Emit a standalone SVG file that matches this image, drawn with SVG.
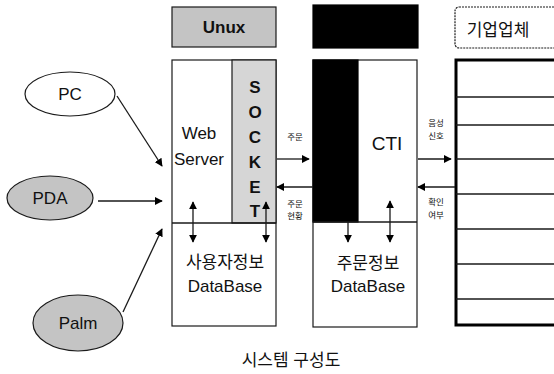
<svg xmlns="http://www.w3.org/2000/svg" width="554" height="374" viewBox="0 0 554 374">
  <style>
    .box { fill: #ffffff; stroke: #1a1a1a; stroke-width: 1.2; }
    .gray { fill: #c4c4c4; stroke: #1a1a1a; stroke-width: 1.2; }
    .lgray { fill: #d6d6d6; stroke: #1a1a1a; stroke-width: 1.2; }
    .blk { fill: #000000; stroke: #000000; stroke-width: 1.2; }
    .ln { stroke: #1a1a1a; stroke-width: 1.3; fill: none; }
    .thick { stroke: #000000; stroke-width: 3; fill: none; }
    .t { font-family: "Liberation Sans", "Noto Sans CJK KR", sans-serif; fill: #111; text-anchor: middle; }
    .big { font-size: 17px; }
    .sm { font-size: 8.5px; }
    .sock { font-size: 17px; font-weight: bold; }
  </style>
  <defs>
    <marker id="ah" viewBox="0 0 10 10" refX="9" refY="5" markerWidth="8" markerHeight="8" markerUnits="userSpaceOnUse" orient="auto-start-reverse">
      <path d="M0,0 L10,5 L0,10 z" fill="#000"/>
    </marker>
  </defs>

  <!-- client devices -->
  <g id="pc">
    <ellipse cx="70" cy="94" rx="45" ry="22" class="box"/>
    <text x="70" y="100" class="t big">PC</text>
  </g>
  <g id="pda">
    <ellipse cx="50" cy="198" rx="43" ry="22" class="gray"/>
    <text x="50" y="204" class="t big">PDA</text>
  </g>
  <g id="palm">
    <ellipse cx="78" cy="323" rx="45" ry="28" class="gray"/>
    <text x="78" y="329" class="t big">Palm</text>
  </g>

  <!-- column headers -->
  <g id="hdr-unux">
    <rect x="172" y="7" width="104" height="40" class="gray"/>
    <text x="224" y="33" class="t big" font-weight="bold">Unux</text>
  </g>
  <g id="hdr-cti">
    <rect x="313" y="5" width="105" height="43" class="blk"/>
  </g>
  <g id="hdr-company">
    <rect x="455" y="7" width="110" height="41" rx="4" fill="#fff" stroke="#1a1a1a" stroke-width="1.2" stroke-dasharray="2 1"/>
    <text x="498" y="36" class="t big">기업업체</text>
  </g>

  <!-- web server block -->
  <g id="webserver">
    <rect x="172" y="60" width="104" height="266" class="box"/>
    <rect x="232" y="60" width="44" height="163" class="lgray"/>
    <line x1="172" y1="223" x2="276" y2="223" class="ln"/>
    <text x="199" y="139" class="t big">Web</text>
    <text x="199" y="165" class="t big">Server</text>
    <text x="255" y="93" class="t sock">S</text>
    <text x="255" y="118" class="t sock">O</text>
    <text x="255" y="143" class="t sock">C</text>
    <text x="255" y="168" class="t sock">K</text>
    <text x="255" y="193" class="t sock">E</text>
    <text x="255" y="217" class="t sock">T</text>
    <text x="225" y="268" class="t big">사용자정보</text>
    <text x="225" y="292" class="t big">DataBase</text>
  </g>

  <!-- CTI block -->
  <g id="cti">
    <rect x="313" y="60" width="104" height="267" class="box"/>
    <rect x="313" y="60" width="45" height="162" class="blk"/>
    <line x1="313" y1="222" x2="417" y2="222" class="ln"/>
    <text x="387" y="150" class="t" font-size="19">CTI</text>
    <text x="368" y="269" class="t big">주문정보</text>
    <text x="368" y="292" class="t big">DataBase</text>
  </g>

  <!-- company list -->
  <g id="company">
    <path d="M565,60 L456,60 L456,325 L565,325" class="thick"/>
    <g class="ln">
      <line x1="456" y1="97" x2="554" y2="97"/>
      <line x1="456" y1="125" x2="554" y2="125"/>
      <line x1="456" y1="159" x2="554" y2="159"/>
      <line x1="456" y1="194" x2="554" y2="194"/>
      <line x1="456" y1="229" x2="554" y2="229"/>
      <line x1="456" y1="264" x2="554" y2="264"/>
      <line x1="456" y1="299" x2="554" y2="299"/>
    </g>
  </g>

  <!-- connectors -->
  <g id="connectors" class="ln">
    <line x1="117" y1="96" x2="162" y2="166" marker-end="url(#ah)"/>
    <line x1="98" y1="201" x2="162" y2="201" marker-end="url(#ah)"/>
    <line x1="123" y1="312" x2="162" y2="229" marker-end="url(#ah)"/>

    <line x1="277" y1="159" x2="309" y2="159" marker-end="url(#ah)"/>
    <line x1="313" y1="187" x2="277" y2="187" marker-end="url(#ah)"/>
    <line x1="418" y1="159" x2="451" y2="159" marker-end="url(#ah)"/>
    <line x1="455" y1="187" x2="418" y2="187" marker-end="url(#ah)"/>

    <line x1="193" y1="202" x2="193" y2="242" marker-start="url(#ah)" marker-end="url(#ah)"/>
    <line x1="266" y1="202" x2="266" y2="242" marker-start="url(#ah)" marker-end="url(#ah)"/>
    <line x1="348" y1="222" x2="348" y2="242" marker-end="url(#ah)"/>
    <line x1="390" y1="201" x2="390" y2="242" marker-start="url(#ah)" marker-end="url(#ah)"/>
  </g>

  <!-- connector labels -->
  <g id="labels">
    <text x="295" y="140" class="t sm">주문</text>
    <text x="295" y="207" class="t sm">주문</text>
    <text x="295" y="219" class="t sm">현황</text>
    <text x="436" y="126" class="t sm">음성</text>
    <text x="436" y="139" class="t sm">신호</text>
    <text x="436" y="205" class="t sm">확인</text>
    <text x="436" y="218" class="t sm">여부</text>
  </g>

  <text x="291" y="366" class="t" font-size="17">시스템 구성도</text>
</svg>
